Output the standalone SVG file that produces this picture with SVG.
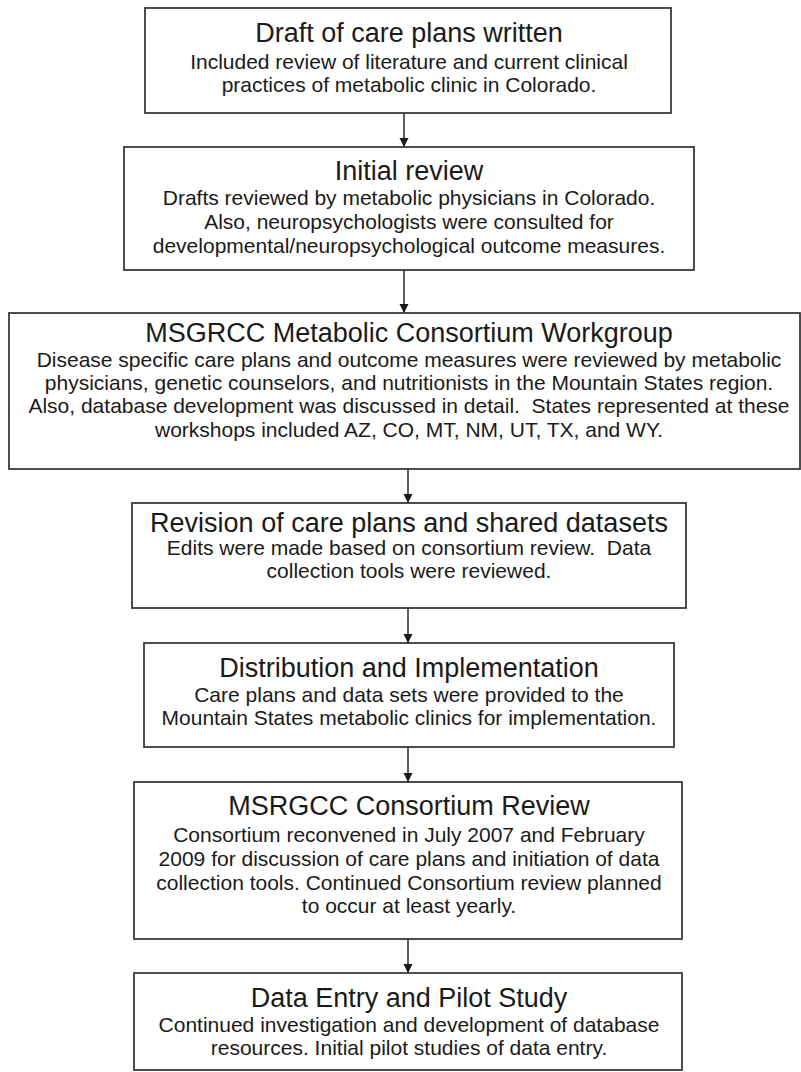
<svg xmlns="http://www.w3.org/2000/svg" width="801" height="1072" viewBox="0 0 801 1072">
<defs>
<style>
.box{fill:#fff;stroke:#3a3a3a;stroke-width:1.8}
.t{font-family:"Liberation Sans",Arial,sans-serif;font-size:27px;fill:#1a1a1a;text-anchor:middle}
.b{font-family:"Liberation Sans",Arial,sans-serif;font-size:21px;fill:#1a1a1a;text-anchor:middle}
.c{stroke:#1a1a1a;stroke-width:1.4;fill:none}
</style>
<marker id="ah" markerWidth="10" markerHeight="10" refX="9" refY="4.5" orient="auto" markerUnits="userSpaceOnUse">
<path d="M0,0 L9,4.5 L0,9 Z" fill="#1a1a1a"/>
</marker>
</defs>
<rect width="801" height="1072" fill="#fff"/>
<g id="connectors">
<line class="c" x1="404" y1="113" x2="404" y2="147" marker-end="url(#ah)"/>
<line class="c" x1="404" y1="270" x2="404" y2="313" marker-end="url(#ah)"/>
<line class="c" x1="408" y1="469" x2="408" y2="503" marker-end="url(#ah)"/>
<line class="c" x1="408" y1="608" x2="408" y2="643" marker-end="url(#ah)"/>
<line class="c" x1="408" y1="747" x2="408" y2="782" marker-end="url(#ah)"/>
<line class="c" x1="408" y1="939" x2="408" y2="973" marker-end="url(#ah)"/>
</g>
<g id="n1">
<rect class="box" x="145" y="8" width="526" height="105"/>
<text class="t" x="409" y="42">Draft of care plans written</text>
<text class="b" x="409" y="69">Included review of literature and current clinical</text>
<text class="b" x="409" y="92">practices of metabolic clinic in Colorado.</text>
</g>
<g id="n2">
<rect class="box" x="124" y="147" width="570" height="123"/>
<text class="t" x="409" y="180">Initial review</text>
<text class="b" x="409" y="205">Drafts reviewed by metabolic physicians in Colorado.</text>
<text class="b" x="409" y="229">Also, neuropsychologists were consulted for</text>
<text class="b" x="409" y="253">developmental/neuropsychological outcome measures.</text>
</g>
<g id="n3">
<rect class="box" x="9" y="313" width="791" height="156"/>
<text class="t" x="409" y="342">MSGRCC Metabolic Consortium Workgroup</text>
<text class="b" x="409" y="367">Disease specific care plans and outcome measures were reviewed by metabolic</text>
<text class="b" x="409" y="390">physicians, genetic counselors, and nutritionists in the Mountain States region.</text>
<text class="b" x="409" y="413" xml:space="preserve">Also, database development was discussed in detail.  States represented at these</text>
<text class="b" x="409" y="437">workshops included AZ, CO, MT, NM, UT, TX, and WY.</text>
</g>
<g id="n4">
<rect class="box" x="132" y="503" width="554" height="105"/>
<text class="t" x="409" y="532">Revision of care plans and shared datasets</text>
<text class="b" x="409" y="555" xml:space="preserve">Edits were made based on consortium review.  Data</text>
<text class="b" x="409" y="578">collection tools were reviewed.</text>
</g>
<g id="n5">
<rect class="box" x="144" y="643" width="530" height="104"/>
<text class="t" x="409" y="677">Distribution and Implementation</text>
<text class="b" x="409" y="702">Care plans and data sets were provided to the</text>
<text class="b" x="409" y="725">Mountain States metabolic clinics for implementation.</text>
</g>
<g id="n6">
<rect class="box" x="134" y="782" width="548" height="157"/>
<text class="t" x="409" y="815">MSRGCC Consortium Review</text>
<text class="b" x="409" y="842">Consortium reconvened in July 2007 and February</text>
<text class="b" x="409" y="866">2009 for discussion of care plans and initiation of data</text>
<text class="b" x="409" y="890">collection tools. Continued Consortium review planned</text>
<text class="b" x="409" y="913">to occur at least yearly.</text>
</g>
<g id="n7">
<rect class="box" x="134" y="973" width="548" height="97"/>
<text class="t" x="409" y="1007">Data Entry and Pilot Study</text>
<text class="b" x="409" y="1032">Continued investigation and development of database</text>
<text class="b" x="409" y="1055">resources. Initial pilot studies of data entry.</text>
</g>
</svg>
